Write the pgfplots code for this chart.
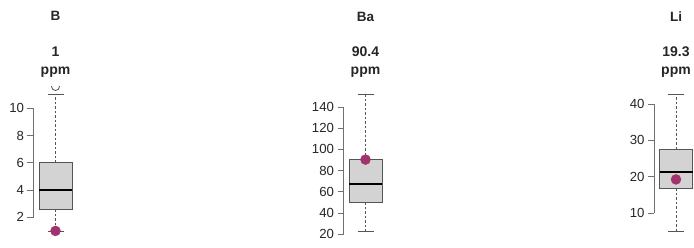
\documentclass[border=0pt]{standalone}
\usepackage{fontspec}
\setmainfont{Liberation Sans}
\usepackage{pgfplots}
\pgfplotsset{compat=1.18}
\usepgfplotslibrary{statistics}
\definecolor{boxfill}{HTML}{D3D3D3}
\definecolor{boxedge}{HTML}{555555}
\definecolor{dotcol}{HTML}{A2336E}
\definecolor{axcol}{HTML}{707070}
\definecolor{txtcol}{HTML}{262626}
\pgfplotsset{
  rbox/.style={
    scale only axis, width=44pt, height=153.5pt, xmin=0, xmax=44,
    anchor=south west, clip mode=individual, clip marker paths=true,
    axis x line=none, axis y line=left,
    y axis line style={draw=none,-},
    ytick style={draw=axcol, line width=0.8pt},
    tick align=outside, major tick length=6pt,
    yticklabel style={font=\fontsize{13.2}{15}\selectfont, text=txtcol},
    /pgf/number format/assume math mode=true,
    boxplot/draw direction=y,
    boxplot/box extend=33, boxplot/whisker extend=16,
    boxplot/every box/.style={draw=boxedge, fill=boxfill, line width=0.9pt},
    boxplot/every median/.style={draw=black, line width=2.2pt},
    boxplot/draw/lower whisker/.code={%
      \draw[boxedge, line width=0.8pt, dash pattern=on 2.5pt off 2pt]
        (boxplot box cs:\pgfplotsboxplotvalue{lower quartile},0.5) --
        (boxplot box cs:\pgfplotsboxplotvalue{lower whisker},0.5);
      \draw[boxedge, line width=0.8pt]
        (boxplot whisker cs:\pgfplotsboxplotvalue{lower whisker},0) --
        (boxplot whisker cs:\pgfplotsboxplotvalue{lower whisker},1);
    },
    boxplot/draw/upper whisker/.code={%
      \draw[boxedge, line width=0.8pt, dash pattern=on 2.5pt off 2pt]
        (boxplot box cs:\pgfplotsboxplotvalue{upper quartile},0.5) --
        (boxplot box cs:\pgfplotsboxplotvalue{upper whisker},0.5);
      \draw[boxedge, line width=0.8pt]
        (boxplot whisker cs:\pgfplotsboxplotvalue{upper whisker},0) --
        (boxplot whisker cs:\pgfplotsboxplotvalue{upper whisker},1);
    },
  },
}
\tikzset{
  ttl/.style={font=\bfseries\fontsize{13.5}{15}\selectfont, text=black!85, anchor=base, inner sep=0pt},
  val/.style={font=\bfseries\fontsize{14}{16}\selectfont, text=black!85, anchor=base, inner sep=0pt},
}
\begin{document}
\begin{tikzpicture}
\path[use as bounding box] (0,0) rectangle (694pt,247pt);
% B
\begin{axis}[rbox, at={(33.5pt,7pt)}, ymin=0.334, ymax=11.6, ytick={2,4,6,8,10}]
\addplot+[boxplot prepared={draw position=22, lower whisker=1.0, lower quartile=2.6,
  median=4.0, upper quartile=6.0, upper whisker=11.05}, draw=boxedge, mark=none] coordinates {};
\addplot[only marks, mark=o, mark size=4pt, draw=boxedge, line width=0.8pt] coordinates {(22,11.6)};
\addplot[only marks, mark=*, mark size=5pt, color=dotcol] coordinates {(22,1.0)};
\draw[axcol, line width=0.8pt] (axis cs:0,2) -- (axis cs:0,10);
\end{axis}
% Ba
\begin{axis}[rbox, at={(343.5pt,7pt)}, ymin=14.63, ymax=159.3, ytick={20,40,...,140}]
\addplot+[boxplot prepared={draw position=22, lower whisker=22.3, lower quartile=50,
  median=67.5, upper quartile=90.5, upper whisker=152.3}, draw=boxedge, mark=none] coordinates {};
\addplot[only marks, mark=*, mark size=5pt, color=dotcol] coordinates {(22,90.4)};
\draw[axcol, line width=0.8pt] (axis cs:0,20) -- (axis cs:0,140);
\end{axis}
% Li
\begin{axis}[rbox, at={(654pt,7pt)}, xmax=40, width=40pt, ymin=2.67, ymax=44.8, ytick={10,20,30,40}]
\addplot+[boxplot prepared={draw position=22, lower whisker=5.1, lower quartile=16.9,
  median=21.3, upper quartile=27.6, upper whisker=42.7}, draw=boxedge, mark=none] coordinates {};
\addplot[only marks, mark=*, mark size=5pt, color=dotcol] coordinates {(22,19.3)};
\draw[axcol, line width=0.8pt] (axis cs:0,10) -- (axis cs:0,40);
\end{axis}
% titles
\node[ttl] at (55.5pt,226pt) {B};
\node[val] at (55.5pt,190.5pt) {1};
\node[val] at (55.5pt,173pt) {ppm};
\node[ttl] at (365.5pt,225.7pt) {Ba};
\node[val] at (365.5pt,190.5pt) {90.4};
\node[val] at (365.5pt,173pt) {ppm};
\node[ttl] at (676pt,225.7pt) {Li};
\node[val] at (676pt,190.5pt) {19.3};
\node[val] at (676pt,173pt) {ppm};
\end{tikzpicture}
\end{document}
